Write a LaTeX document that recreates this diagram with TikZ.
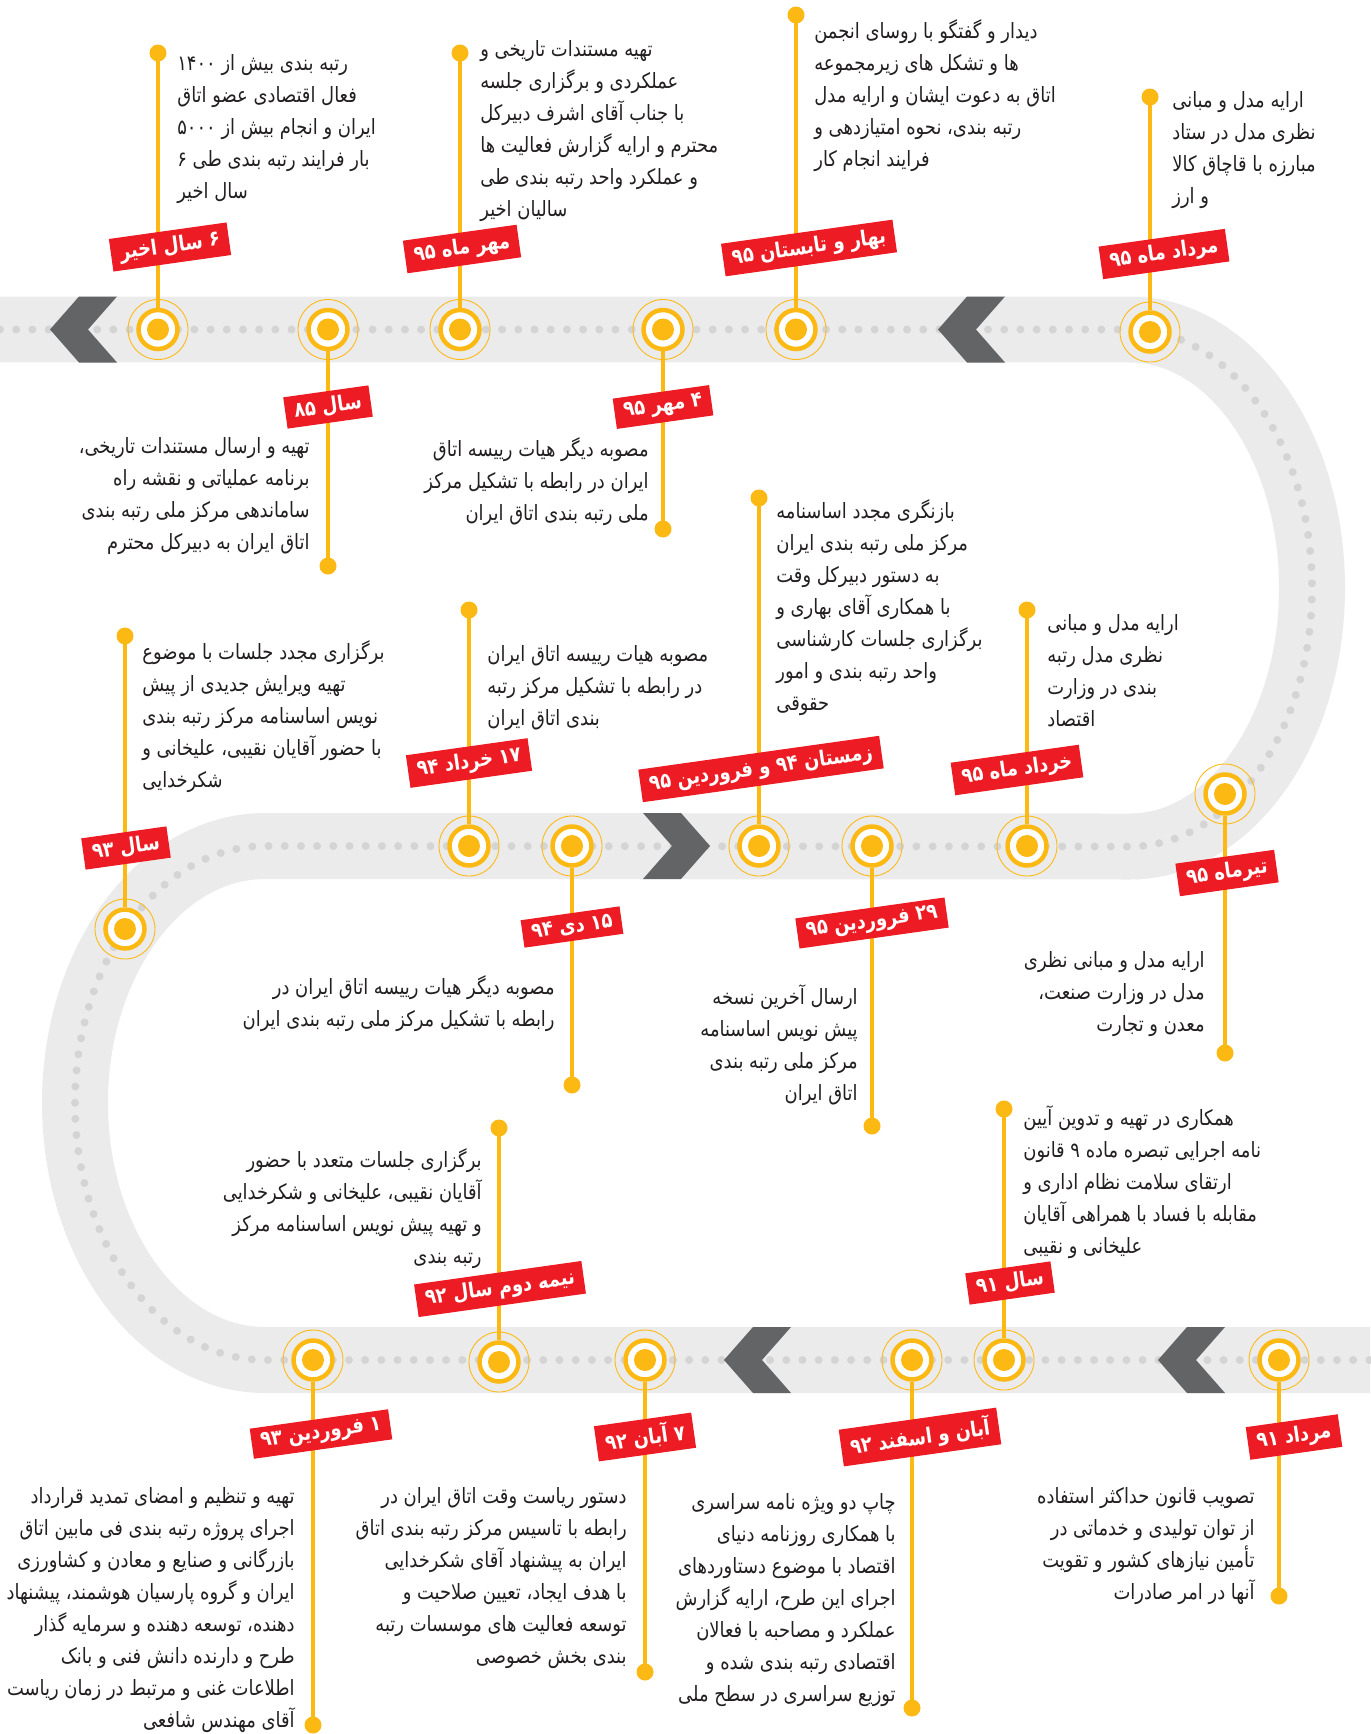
\documentclass[tikz,border=0pt]{standalone}
\usepackage{fontspec}
\newfontfamily\arabicfont[Script=Arabic,FakeStretch=0.85]{DejaVu Sans}
\TeXXeTstate=1
\newcommand\fa[1]{\beginR#1\endR}
\definecolor{ylw}{HTML}{FDB913}
\definecolor{redtag}{HTML}{ED1C24}
\definecolor{track}{HTML}{EBEBEB}
\definecolor{trackdot}{HTML}{D4D4D4}
\definecolor{arrowgray}{HTML}{636466}
\definecolor{ink}{HTML}{231F20}
\tikzset{
  band/.style={track,line width=1.32cm},
  dots/.style={trackdot,line width=.16cm,line cap=round,dash pattern=on 0pt off .324cm},
  ring/.style={circle,draw=ylw,line width=.09cm,fill=white,minimum size=.78cm,inner sep=0},
  stem/.style={ylw,line width=.09cm},
  tag/.style={fill=redtag,text=white,font=\arabicfont\bfseries\fontsize{12}{14}\selectfont,
    inner xsep=.18cm,minimum height=.52cm,rotate=8},
  note/.style={text=ink,font=\arabicfont\fontsize{12}{18.2}\selectfont,inner sep=0},
  notel/.style={note,anchor=north west,align=left},
  noter/.style={note,anchor=north east,align=right},
}
\begin{document}
\begin{tikzpicture}[x=.02cm,y=-.02cm]
  \useasboundingbox (0,0) rectangle (1370,1734);
  \foreach \s in {band,dots}
  \draw[\s] (0,329.5) -- (1130,329.5) arc[start angle=-90,end angle=90,x radius=182,y radius=258.5]
    -- (265,846) arc[start angle=-90,end angle=-270,x radius=190,y radius=257] -- (1370,1360);
  \foreach \t/\y in {50/329.5,938/329.5,724/1360,1158/1360}
  \fill[arrowgray] (\t,\y) -- ++(29,-33) -- ++(38,0) -- ++(-29,33) -- ++(29,33) -- ++(-38,0) -- cycle;
  \fill[arrowgray] (710,846) -- ++(-29,-33) -- ++(-38,0) -- ++(29,33) -- ++(-29,33) -- ++(38,0) -- cycle;
  \foreach \i/\x/\y/\e in {1/158/329.5/53,2/328/329.5/566,3/460/329.5/53,4/663/329.5/529,
    5/796/329.5/15,6/1150/332/97,7/1225/794/1053,8/1027/846/610,9/872/846/1126,
    10/759/846/498,11/572/846/1085,12/469/846/610,13/125/929/636,14/313/1360/1725,
    15/499/1362/1128,16/645/1360/1672,17/912/1360/1708,18/1004/1360/1109,19/1279/1360/1596}{
    \coordinate (e\i) at (\x,\e);
    \node[ring] (n\i) at (\x,\y) {};
    \draw[stem] (n\i) -- (e\i);
    \fill[ylw] (e\i) circle (.17cm);
    \fill[ylw] (n\i) circle (.22cm);
    \draw[ylw,line width=.5pt] (n\i) circle (.6cm);
  }
  % dates
  \node[tag] (t1) at (170,247) {\fa{۶ سال اخیر}};
  \node[tag] (t2) at (328,407) {\fa{سال ۸۵}};
  \node[tag] (t3) at (462,249) {\fa{مهر ماه ۹۵}};
  \node[tag] (t4) at (663,407) {\fa{۴ مهر ۹۵}};
  \node[tag] (t5) at (809,248) {\fa{بهار و تابستان ۹۵}};
  \node[tag] (t6) at (1164,254) {\fa{مرداد ماه ۹۵}};
  \node[tag] (t7) at (1227,873) {\fa{تیرماه ۹۵}};
  \node[tag] (t8) at (1017,770) {\fa{خرداد ماه ۹۵}};
  \node[tag] (t9) at (872,923) {\fa{۲۹ فروردین ۹۵}};
  \node[tag] (t10) at (761,769) {\fa{زمستان ۹۴ و فروردین ۹۵}};
  \node[tag] (t11) at (572,927) {\fa{۱۵ دی ۹۴}};
  \node[tag] (t12) at (469,763) {\fa{۱۷ خرداد ۹۴}};
  \node[tag] (t13) at (126,848) {\fa{سال ۹۳}};
  \node[tag] (t14) at (321,1434) {\fa{۱ فروردین ۹۳}};
  \node[tag] (t15) at (500,1289) {\fa{نیمه دوم سال ۹۲}};
  \node[tag] (t16) at (645,1437) {\fa{۷ آبان ۹۲}};
  \node[tag] (t17) at (920,1437) {\fa{آبان و اسفند ۹۲}};
  \node[tag] (t18) at (1010,1283) {\fa{سال ۹۱}};
  \node[tag] (t19) at (1294,1437) {\fa{مرداد ۹۱}};
  % notes
  \node[notel] (d1) at (177,54) {\fa{رتبه بندی بیش از ۱۴۰۰}\\\fa{فعال اقتصادی عضو اتاق}\\
    \fa{ایران و انجام بیش از ۵۰۰۰}\\\fa{بار فرایند رتبه بندی طی ۶}\\\fa{سال اخیر}};
  \node[noter] (d2) at (310,437) {\fa{تهیه و ارسال مستندات تاریخی،}\\\fa{برنامه عملیاتی و نقشه راه}\\
    \fa{ساماندهی مرکز ملی رتبه بندی}\\\fa{اتاق ایران به دبیرکل محترم}};
  \node[notel] (d3) at (480,40) {\fa{تهیه مستندات تاریخی و}\\\fa{عملکردی و برگزاری جلسه}\\
    \fa{با جناب آقای اشرف دبیرکل}\\\fa{محترم و ارایه گزارش فعالیت ها}\\
    \fa{و عملکرد واحد رتبه بندی طی}\\\fa{سالیان اخیر}};
  \node[noter] (d4) at (649,437) {\fa{مصوبه دیگر هیات رییسه اتاق}\\\fa{ایران در رابطه با تشکیل مرکز}\\
    \fa{ملی رتبه بندی اتاق ایران}};
  \node[notel] (d5) at (814,19) {\fa{دیدار و گفتگو با روسای انجمن}\\\fa{ها و تشکل های زیرمجموعه}\\
    \fa{اتاق به دعوت ایشان و ارایه مدل}\\\fa{رتبه بندی، نحوه امتیازدهی و}\\\fa{فرایند انجام کار}};
  \node[notel] (d6) at (1172,91) {\fa{ارایه مدل و مبانی}\\\fa{نظری مدل در ستاد}\\
    \fa{مبارزه با قاچاق کالا}\\\fa{و ارز}};
  \node[noter] (d7) at (1205,951) {\fa{ارایه مدل و مبانی نظری}\\\fa{مدل در وزارت صنعت،}\\
    \fa{معدن و تجارت}};
  \node[notel] (d8) at (1047,614) {\fa{ارایه مدل و مبانی}\\\fa{نظری مدل رتبه}\\
    \fa{بندی در وزارت}\\\fa{اقتصاد}};
  \node[noter] (d9) at (858,984) {\fa{ارسال آخرین نسخه}\\\fa{پیش نویس اساسنامه}\\
    \fa{مرکز ملی رتبه بندی}\\\fa{اتاق ایران}};
  \node[notel] (d10) at (776,499) {\fa{بازنگری مجدد اساسنامه}\\\fa{مرکز ملی رتبه بندی ایران}\\
    \fa{به دستور دبیرکل وقت}\\\fa{با همکاری آقای بهاری و}\\\fa{برگزاری جلسات کارشناسی}\\
    \fa{واحد رتبه بندی و امور}\\\fa{حقوقی}};
  \node[noter] (d11) at (555,975) {\fa{مصوبه دیگر هیات رییسه اتاق ایران در}\\
    \fa{رابطه با تشکیل مرکز ملی رتبه بندی ایران}};
  \node[notel] (d12) at (487,645) {\fa{مصوبه هیات رییسه اتاق ایران}\\\fa{در رابطه با تشکیل مرکز رتبه}\\
    \fa{بندی اتاق ایران}};
  \node[notel] (d13) at (142,640) {\fa{برگزاری مجدد جلسات با موضوع}\\\fa{تهیه ویرایش جدیدی از پیش}\\
    \fa{نویس اساسنامه مرکز رتبه بندی}\\\fa{با حضور آقایان نقیبی، علیخانی و}\\\fa{شکرخدایی}};
  \node[noter] (d14) at (295,1487) {\fa{تهیه و تنظیم و امضای تمدید قرارداد}\\
    \fa{اجرای پروژه رتبه بندی فی مابین اتاق}\\\fa{بازرگانی و صنایع و معادن و کشاورزی}\\
    \fa{ایران و گروه پارسیان هوشمند، پیشنهاد}\\\fa{دهنده، توسعه دهنده و سرمایه گذار}\\
    \fa{طرح و دارنده دانش فنی و بانک}\\\fa{اطلاعات غنی و مرتبط در زمان ریاست}\\
    \fa{آقای مهندس شافعی}};
  \node[noter] (d15) at (482,1148) {\fa{برگزاری جلسات متعدد با حضور}\\
    \fa{آقایان نقیبی، علیخانی و شکرخدایی}\\\fa{و تهیه پیش نویس اساسنامه مرکز}\\\fa{رتبه بندی}};
  \node[noter] (d16) at (627,1487) {\fa{دستور ریاست وقت اتاق ایران در}\\
    \fa{رابطه با تاسیس مرکز رتبه بندی اتاق}\\\fa{ایران به پیشنهاد آقای شکرخدایی}\\
    \fa{با هدف ایجاد، تعیین صلاحیت و}\\\fa{توسعه فعالیت های موسسات رتبه}\\\fa{بندی بخش خصوصی}};
  \node[noter] (d17) at (896,1493) {\fa{چاپ دو ویژه نامه سراسری}\\\fa{با همکاری روزنامه دنیای}\\
    \fa{اقتصاد با موضوع دستاوردهای}\\\fa{اجرای این طرح، ارایه گزارش}\\
    \fa{عملکرد و مصاحبه با فعالان}\\\fa{اقتصادی رتبه بندی شده و}\\\fa{توزیع سراسری در سطح ملی}};
  \node[notel] (d18) at (1023,1105) {\fa{همکاری در تهیه و تدوین آیین}\\
    \fa{نامه اجرایی تبصره ماده ۹ قانون}\\\fa{ارتقای سلامت نظام اداری و}\\
    \fa{مقابله با فساد با همراهی آقایان}\\\fa{علیخانی و نقیبی}};
  \node[noter] (d19) at (1255,1487) {\fa{تصویب قانون حداکثر استفاده}\\\fa{از توان تولیدی و خدماتی در}\\
    \fa{تأمین نیازهای کشور و تقویت}\\\fa{آنها در امر صادرات}};
\end{tikzpicture}
\end{document}
